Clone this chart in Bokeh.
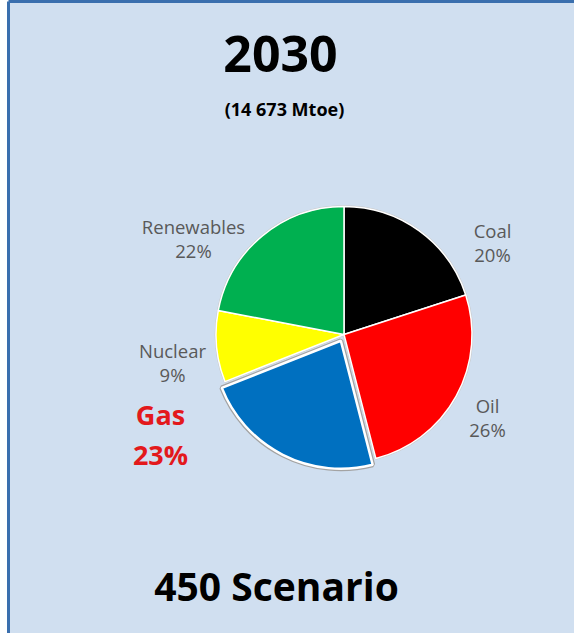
import numpy as np
from bokeh.plotting import figure
from bokeh.models import Range1d, ColumnDataSource, FixedTicker
from bokeh.core.properties import value
from bokeh.embed import file_html
from bokeh.resources import INLINE

# ---- data ----
categories = ["Coal", "Oil", "Gas", "Nuclear", "Renewables"]
shares = [20, 26, 23, 9, 22]
colors = ["#000000", "#ff0000", "#0070c0", "#ffff00", "#00b050"]
year = "2030"
total_label = "(14 673 Mtoe)"
scenario = "450 Scenario"

# ---- layout ----
W, H = 574, 633
BL, BT = 8, 1
FW, FH = W - BL, H - BT
FONT = "Open Sans"
PANEL = "#d0dff0"
EDGE = "#3a6fae"
LABEL_GREY = "#595959"
GAS_RED = "#e3191c"


def pos(px, py):
    """page pixel -> data coordinates"""
    return px - (8 + BL), (8 + H) - py


cx, cy = pos(351.5, 342)
R = 128
explode = {"Gas": 7}
label_page = {"Coal": (500, 250), "Oil": (495, 425), "Gas": (168, 442),
              "Nuclear": (180, 370), "Renewables": (201, 246)}

p = figure(width=W, height=H, x_range=Range1d(0, FW), y_range=Range1d(0, FH),
           output_backend="svg", toolbar_location=None, x_axis_location="above",
           min_border_left=BL, min_border_top=BT, min_border_right=0, min_border_bottom=0,
           background_fill_color=PANEL, border_fill_color="white", outline_line_color=None)
p.grid.visible = False
for ax in (p.xaxis[0], p.yaxis[0]):
    ax.ticker = FixedTicker(ticks=[])
    ax.major_tick_out = 0
    ax.major_tick_in = 0
    ax.minor_tick_out = 0
    ax.minor_tick_in = 0
    ax.major_label_text_font_size = "0px"
    ax.major_label_standoff = 0
    ax.axis_line_color = EDGE
    ax.axis_line_width = 3

# ---- pie ----
frac = np.array(shares, dtype=float) / np.sum(shares)
cw_end = np.cumsum(frac) * 2 * np.pi
cw_start = cw_end - frac * 2 * np.pi
cw_mid = (cw_start + cw_end) / 2
xs, ys = [], []
for i, c in enumerate(categories):
    d = explode.get(c, 0)
    xs.append(cx + d * np.sin(cw_mid[i]))
    ys.append(cy + d * np.cos(cw_mid[i]))
start = np.pi / 2 - cw_end
end = np.pi / 2 - cw_start

src = ColumnDataSource(dict(x=xs, y=ys, start=start, end=end, color=colors, cat=categories))
normal = [i for i, c in enumerate(categories) if c not in explode]
expl = [i for i, c in enumerate(categories) if c in explode]

def sub(idx):
    return ColumnDataSource({k: [v[i] for i in idx] for k, v in src.data.items()})

sn = sub(normal)
p.wedge(x="x", y="y", radius=R, start_angle="start", end_angle="end", direction="anticlock",
        fill_color="color", line_color="#c8c8c8", line_width=2.5, source=sn)
p.wedge(x="x", y="y", radius=R, start_angle="start", end_angle="end", direction="anticlock",
        fill_color="color", line_color="white", line_width=1.5, source=sn)
se = sub(expl)
p.wedge(x="x", y="y", radius=R, start_angle="start", end_angle="end", direction="anticlock",
        fill_color="color", line_color="#a3a3a3", line_width=5, source=se)
p.wedge(x="x", y="y", radius=R, start_angle="start", end_angle="end", direction="anticlock",
        fill_color="color", line_color="white", line_width=2.5, source=se)

# ---- labels ----
for c, s in zip(categories, shares):
    lx, ly = pos(*label_page[c])
    txt = f"{c}\n{s}%"
    if c == "Gas":
        p.text(x=[lx], y=[ly], text=[txt], text_align="center", text_baseline="middle",
               text_font=value(FONT), text_font_size="27px", text_font_style="bold",
               text_color=GAS_RED, text_line_height=1.06)
    else:
        p.text(x=[lx], y=[ly], text=[txt], text_align="center", text_baseline="middle",
               text_font=value(FONT), text_font_size="18.5px", text_color=LABEL_GREY,
               text_line_height=0.99)

tx, ty = pos(288, 61)
p.text(x=[tx], y=[ty], text=[year], text_align="center", text_baseline="middle",
       text_font=value(FONT), text_font_size="50px", text_font_style="bold", text_color="black")
tx, ty = pos(292, 116)
p.text(x=[tx], y=[ty], text=[total_label], text_align="center", text_baseline="middle",
       text_font=value(FONT), text_font_size="18px", text_font_style="bold", text_color="black")
tx, ty = pos(284, 593)
p.text(x=[tx], y=[ty], text=[scenario], text_align="center", text_baseline="middle",
       text_font=value(FONT), text_font_size="39px", text_font_style="bold", text_color="black")

open("out.html", "w").write(file_html(p, INLINE))
